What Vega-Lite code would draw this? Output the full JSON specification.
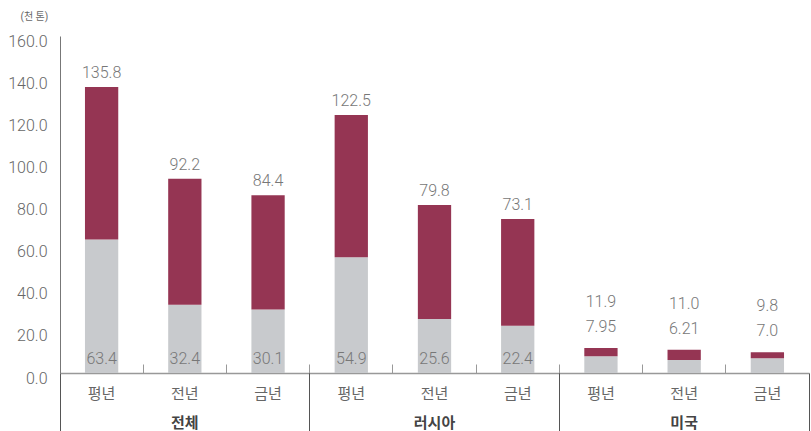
{
  "$schema": "https://vega.github.io/schema/vega-lite/v6.json",
  "width": 749,
  "height": 337,
  "autosize": {"type": "none"},
  "padding": {"left": 60, "top": 36, "right": 2, "bottom": 58},
  "background": "white",
  "config": {
    "view": {"stroke": null},
    "font": "Roboto, Noto Sans CJK KR",
    "axis": {"grid": false, "labelFont": "Roboto, Noto Sans CJK KR"}
  },
  "data": {
    "values": [
      {"group": "전체", "year": "평년", "cat": "전체 평년", "low": 63.4, "total": 135.8, "lowLabel": "63.4", "totalLabel": "135.8"},
      {"group": "전체", "year": "전년", "cat": "전체 전년", "low": 32.4, "total": 92.2, "lowLabel": "32.4", "totalLabel": "92.2"},
      {"group": "전체", "year": "금년", "cat": "전체 금년", "low": 30.1, "total": 84.4, "lowLabel": "30.1", "totalLabel": "84.4"},
      {"group": "러시아", "year": "평년", "cat": "러시아 평년", "low": 54.9, "total": 122.5, "lowLabel": "54.9", "totalLabel": "122.5"},
      {"group": "러시아", "year": "전년", "cat": "러시아 전년", "low": 25.6, "total": 79.8, "lowLabel": "25.6", "totalLabel": "79.8"},
      {"group": "러시아", "year": "금년", "cat": "러시아 금년", "low": 22.4, "total": 73.1, "lowLabel": "22.4", "totalLabel": "73.1"},
      {"group": "미국", "year": "평년", "cat": "미국 평년", "low": 7.95, "total": 11.9, "lowLabel": "7.95", "totalLabel": "11.9"},
      {"group": "미국", "year": "전년", "cat": "미국 전년", "low": 6.21, "total": 11.0, "lowLabel": "6.21", "totalLabel": "11.0"},
      {"group": "미국", "year": "금년", "cat": "미국 금년", "low": 7.0, "total": 9.8, "lowLabel": "7.0", "totalLabel": "9.8"}
    ]
  },
  "resolve": {"scale": {"x": "independent"}, "axis": {"x": "independent"}},
  "layer": [
    {
      "layer": [
        {
          "mark": {"type": "bar", "color": "#c8cacd", "width": {"band": 0.4}},
          "encoding": {
            "x": {
              "field": "cat", "type": "nominal", "sort": null,
              "scale": {"type": "band", "paddingInner": 0, "paddingOuter": 0},
              "axis": {
                "orient": "bottom", "title": null, "labelAngle": 0,
                "labelExpr": "split(datum.label, ' ')[1]",
                "domainColor": "#999999", "domainWidth": 1.5,
                "tickColor": "#999999", "tickSize": -9, "tickWidth": 1,
                "bandPosition": 0,
                "labelPadding": 22, "labelFontSize": 15, "labelColor": "#666666"
              }
            },
            "y": {
              "field": "low", "type": "quantitative",
              "scale": {"domain": [0, 160], "nice": false},
              "axis": {
                "values": [0, 20, 40, 60, 80, 100, 120, 140, 160],
                "format": ".1f", "ticks": false, "domainColor": "#777777", "domainWidth": 1,
                "labelFontSize": 16, "labelFontWeight": 300, "labelColor": "#666666", "labelPadding": 13, "labelOffset": 5,
                "title": "(천 톤)", "titleAngle": 0, "titleFontSize": 10, "titleFontWeight": "normal",
                "titleColor": "#666666", "titleX": -40, "titleY": -20, "titleAlign": "left", "titleBaseline": "middle"
              }
            }
          }
        },
        {
          "mark": {"type": "bar", "color": "#953553", "width": {"band": 0.4}},
          "encoding": {
            "x": {"field": "cat", "type": "nominal", "sort": null},
            "y": {"field": "low", "type": "quantitative"},
            "y2": {"field": "total"}
          }
        },
        {
          "transform": [{"filter": "datum.group !== '미국'"}],
          "mark": {"type": "text", "baseline": "alphabetic", "dy": -9, "fontSize": 16, "fontWeight": 300, "color": "#777777"},
          "encoding": {
            "x": {"field": "cat", "type": "nominal", "sort": null},
            "y": {"datum": 0},
            "text": {"field": "lowLabel"}
          }
        },
        {
          "transform": [{"filter": "datum.group !== '미국'"}],
          "mark": {"type": "text", "baseline": "alphabetic", "dy": -9, "fontSize": 16, "fontWeight": 300, "color": "#777777"},
          "encoding": {
            "x": {"field": "cat", "type": "nominal", "sort": null},
            "y": {"field": "total", "type": "quantitative"},
            "text": {"field": "totalLabel"}
          }
        },
        {
          "transform": [{"filter": "datum.group === '미국'"}],
          "mark": {"type": "text", "baseline": "alphabetic", "dy": -16, "fontSize": 16, "fontWeight": 300, "color": "#777777"},
          "encoding": {
            "x": {"field": "cat", "type": "nominal", "sort": null},
            "y": {"field": "total", "type": "quantitative"},
            "text": {"field": "lowLabel"}
          }
        },
        {
          "transform": [{"filter": "datum.group === '미국'"}],
          "mark": {"type": "text", "baseline": "alphabetic", "dy": -41, "fontSize": 16, "fontWeight": 300, "color": "#777777"},
          "encoding": {
            "x": {"field": "cat", "type": "nominal", "sort": null},
            "y": {"field": "total", "type": "quantitative"},
            "text": {"field": "totalLabel"}
          }
        }
      ]
    },
    {
      "mark": {"type": "text", "opacity": 0},
      "encoding": {
        "x": {
          "field": "group", "type": "nominal", "sort": null,
          "scale": {"type": "band", "paddingInner": 0, "paddingOuter": 0},
          "axis": {
            "orient": "bottom", "title": null, "labelAngle": 0, "domain": false,
            "bandPosition": 0, "tickSize": 58, "tickColor": "#555555", "tickWidth": 1,
            "labelPadding": -16, "labelFontSize": 15, "labelFontWeight": "bold", "labelColor": "#444444"
          }
        },
        "y": {"datum": 0},
        "text": {"value": ""}
      }
    },
    {
      "mark": {"type": "text", "opacity": 0},
      "encoding": {
        "x": {
          "field": "group", "type": "nominal", "sort": null,
          "scale": {"type": "band", "paddingInner": 0, "paddingOuter": 0},
          "axis": {
            "orient": "bottom", "title": null, "labels": false, "domain": false,
            "bandPosition": 1, "tickSize": 58, "tickColor": "#555555", "tickWidth": 1
          }
        },
        "y": {"datum": 0},
        "text": {"value": ""}
      }
    }
  ]
}
